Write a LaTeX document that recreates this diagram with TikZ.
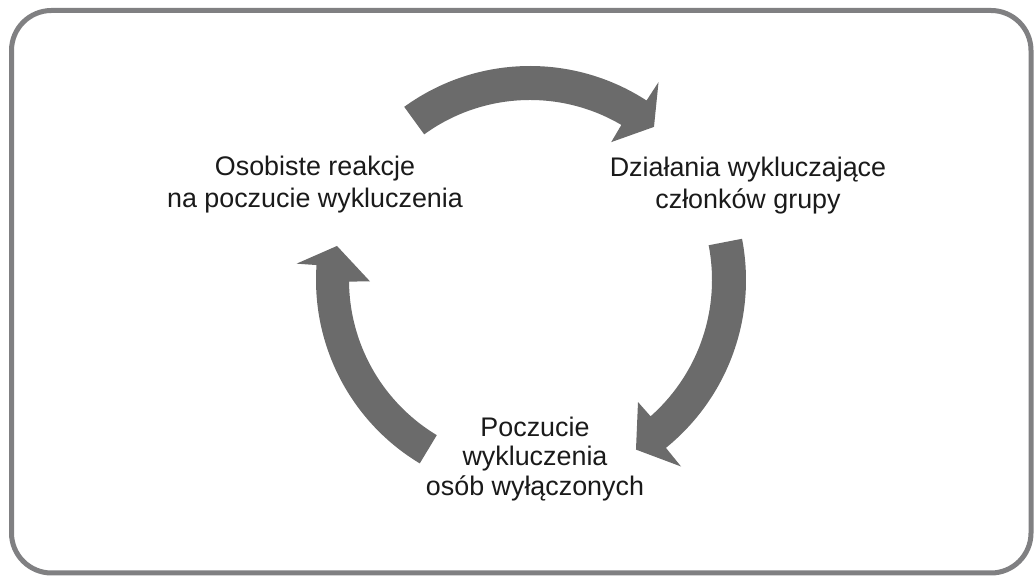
\documentclass[tikz,border=0pt]{standalone}
\usepackage{fontspec}
\setmainfont{Liberation Sans}
\definecolor{framegray}{HTML}{808082}
\definecolor{arrowgray}{HTML}{6B6B6B}
\definecolor{textblack}{HTML}{1A1A1A}
\begin{document}
\begin{tikzpicture}[x=0.02cm,y=0.02cm,
  frame/.style={draw=framegray,line width=5*0.02cm,rounded corners=40*0.02cm},
  cyclearrow/.style={fill=arrowgray},
  label/.style={align=center,text=textblack,font=\fontsize{15.3pt}{18.2pt}\selectfont,inner sep=0pt}]
\useasboundingbox (0,0) rectangle (1035,577);
\draw[frame] (11.5,4) rectangle (1031,566.5);
\begin{scope}[shift={(530,297)}]
  % top arrow
  \fill[cyclearrow] plot[domain=126:57,samples=60] (\x:214) -- (57:236) -- (51:197)
     -- (59.5:160) -- plot[domain=59.5:126,samples=60] (\x:180) -- cycle;
  % right arrow
  \fill[cyclearrow] plot[domain=11:-51,samples=60] (\x:216) -- (-51:240) -- (-58:200)
     -- (-48.5:163) -- plot[domain=-48.5:11,samples=60] (\x:182) -- cycle;
  % left arrow
  \fill[cyclearrow] plot[domain=239:176,samples=60] (\x:214) -- (176:234) -- (170:196)
     -- (180.5:160) -- plot[domain=180.5:239,samples=60] (\x:181) -- cycle;
\end{scope}
\node[label] (reakcje) at (315,392) {Osobiste reakcje\\na poczucie wykluczenia};
\node[label] (dzialania) at (748,391) {Działania wykluczające\\członków grupy};
\node[label,font=\fontsize{15.3pt}{17pt}\selectfont] (poczucie) at (535,118) {Poczucie\\wykluczenia\\osób wyłączonych};
\end{tikzpicture}
\end{document}
